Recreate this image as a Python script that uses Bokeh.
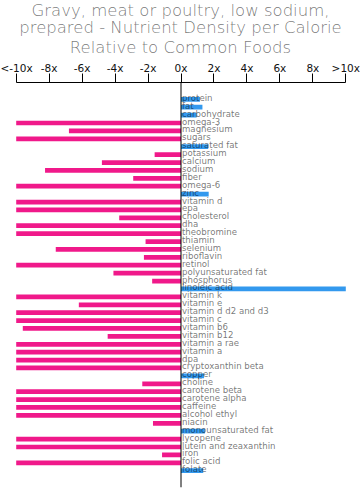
from bokeh.plotting import figure
from bokeh.models import ColumnDataSource, Range1d, FixedTicker, Span, Title
from bokeh.core.properties import value
from bokeh.embed import file_html
from bokeh.resources import INLINE

nutrients = ["protein", "fat", "carbohydrate", "omega-3", "magnesium", "sugars",
             "saturated fat", "potassium", "calcium", "sodium", "fiber", "omega-6",
             "zinc", "vitamin d", "epa", "cholesterol", "dha", "theobromine",
             "thiamin", "selenium", "riboflavin", "retinol", "polyunsaturated fat",
             "phosphorus", "linoleic acid", "vitamin k", "vitamin e",
             "vitamin d d2 and d3", "vitamin c", "vitamin b6", "vitamin b12",
             "vitamin a rae", "vitamin a", "dpa", "cryptoxanthin beta", "copper",
             "choline", "carotene beta", "carotene alpha", "caffeine",
             "alcohol ethyl", "niacin", "monounsaturated fat", "lycopene",
             "lutein and zeaxanthin", "iron", "folic acid", "folate"]
density = [1.15, 1.3, 0.95, -10, -6.8, -10,
           1.65, -1.6, -4.8, -8.25, -2.9, -10,
           1.68, -10, -10, -3.75, -10, -10,
           -2.15, -7.6, -2.25, -10, -4.1,
           -1.75, 10, -10, -6.2,
           -10, -10, -9.6, -4.45,
           -10, -10, -10, -10, 1.4,
           -2.35, -10, -10, -10,
           -10, -1.7, 1.45, -10,
           -10, -1.15, -10, 1.35]
tick_values = [-10, -8, -6, -4, -2, 0, 2, 4, 6, 8, 10]
tick_labels = ["<-10x", "-8x", "-6x", "-4x", "-2x", "0x", "2x", "4x", "6x", "8x", ">10x"]
title_lines = ["Gravy, meat or poultry, low sodium,",
               "prepared - Nutrient Density per Calorie",
               "Relative to Common Foods"]

PINK = "#f0198a"
BLUE = "#3399ee"

idx = list(range(len(nutrients)))
colors = [BLUE if v > 0 else PINK for v in density]
src = ColumnDataSource(dict(y=idx, v=density, name=nutrients, c=colors))

n = len(nutrients)
p = figure(width=360, height=498, output_backend="svg", toolbar_location=None,
           x_range=Range1d(-10.953, 10.892), y_range=Range1d(n - 1 + 2.125, -2.125),
           x_axis_location="above", y_axis_location=None,
           min_border_left=0, min_border_right=0, min_border_top=0, min_border_bottom=11)
p.outline_line_color = None
p.xgrid.visible = False
p.ygrid.visible = False

# stacked outward from the axis: last line first
standoffs = [-4, -4, 3]
for line, so in reversed(list(zip(title_lines, standoffs))):
    p.add_layout(Title(text=line, align="center",
                       text_font="DejaVu Sans Light", text_font_size="16.5px",
                       text_font_style="normal",
                       text_color="#000000", text_alpha=0.55, standoff=so), "above")

ax = p.xaxis[0]
ax.ticker = FixedTicker(ticks=tick_values)
ax.major_label_overrides = {t: l for t, l in zip(tick_values, tick_labels)}
ax.bounds = (-10, 10)
ax.axis_line_color = "black"
ax.major_tick_line_color = "black"
ax.major_tick_out = 9
ax.major_tick_in = 0
ax.minor_tick_line_color = None
ax.major_label_standoff = 0
ax.major_label_text_font = "DejaVu Sans"
ax.major_label_text_font_size = "10.5px"
ax.major_label_text_color = "#111111"

p.hbar(y="y", left=0, right="v", height=0.6, fill_color="c", line_color=None, source=src)
p.add_layout(Span(location=0, dimension="height", line_color="black", line_width=1))
p.text(x=0, y="y", text="name", source=src, x_offset=1, y_offset=-1.5,
       text_align="left", text_baseline="middle",
       text_font=value("DejaVu Sans"), text_font_size="8.6px",
       text_color="#000000", text_alpha=0.55)

open("out.html", "w").write(file_html(p, INLINE))
